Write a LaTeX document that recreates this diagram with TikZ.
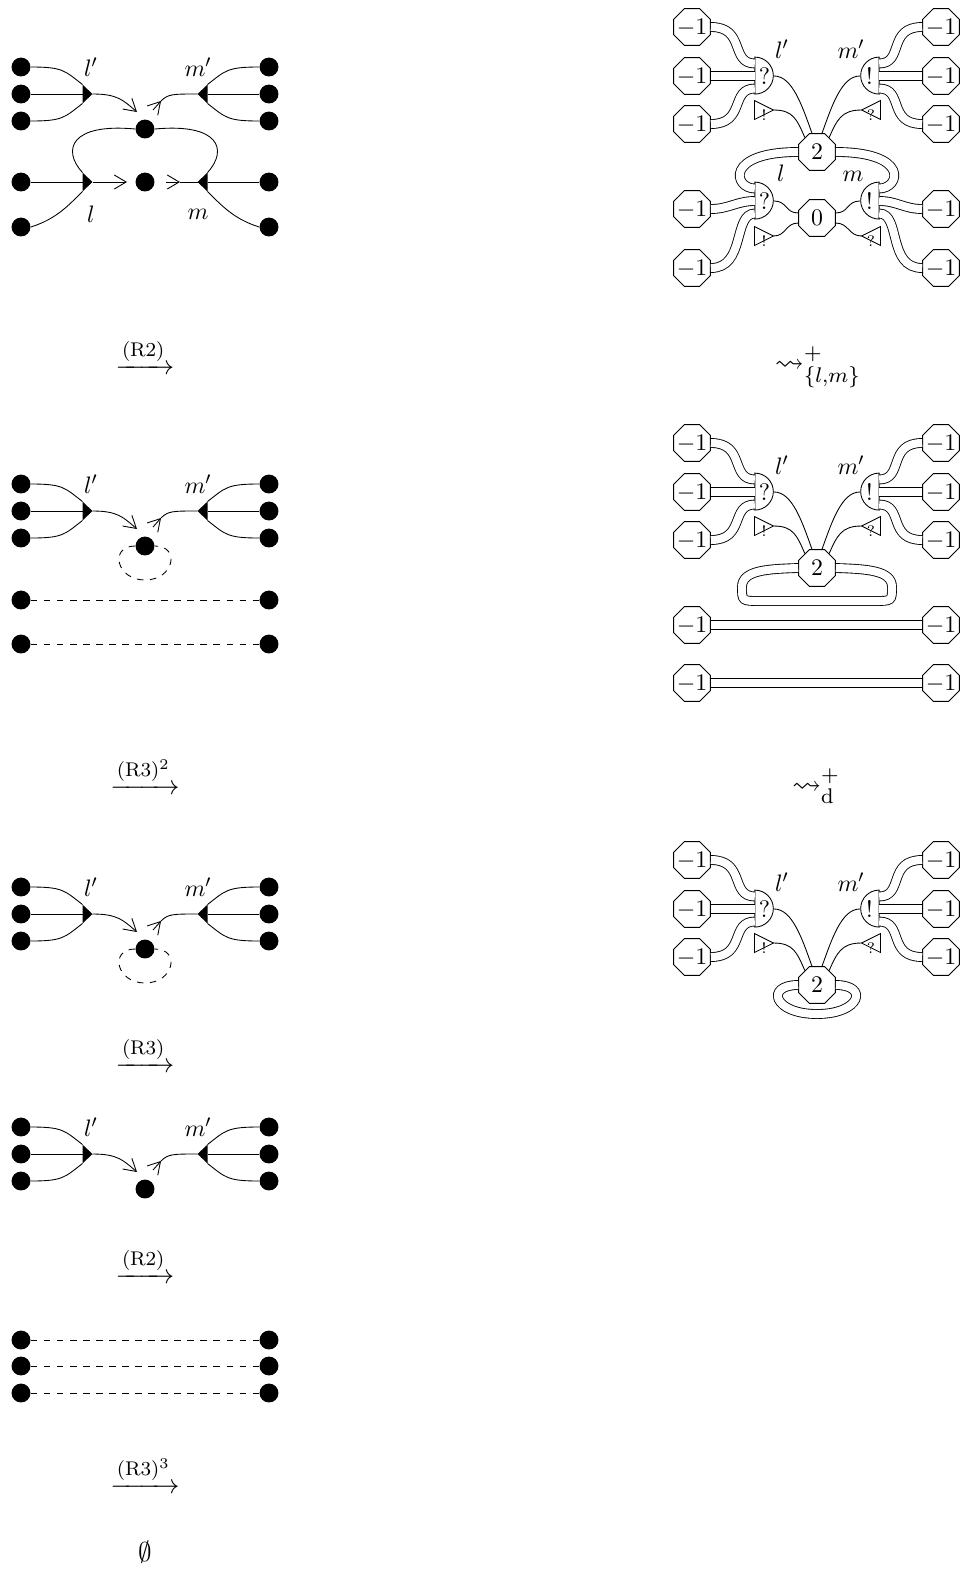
\documentclass[tikz,border=0pt]{standalone}
\usepackage{amsmath,amssymb}
\usetikzlibrary{arrows.meta,shapes.geometric,calc}

\tikzset{
    dotnode/.style={circle,fill,inner sep=0pt,minimum size=8.7pt},
    octnode/.style={regular polygon,regular polygon sides=8,draw,inner sep=0pt,minimum size=18.3pt},
    stepnode/.style={scale=1.14},
    squignode/.style={scale=1.22},
    lcell/.style={inner sep=0pt,minimum width=8.5pt,minimum height=17pt,
        append after command={\pgfextra{\draw (\tikzlastnode.north west) arc[start angle=-90,end angle=90,radius=18.5] -- cycle;}}},
    rcell/.style={inner sep=0pt,minimum width=8.5pt,minimum height=17pt,
        append after command={\pgfextra{\draw (\tikzlastnode.north east) arc[start angle=-90,end angle=-270,radius=18.5] -- cycle;}}},
    blackl/.style={inner sep=0pt,minimum width=4.2pt,minimum height=8.3pt,
        append after command={\pgfextra{\fill (\tikzlastnode.north west) -- (\tikzlastnode.east) -- (\tikzlastnode.south west) -- cycle;}}},
    blackr/.style={inner sep=0pt,minimum width=4.2pt,minimum height=8.3pt,
        append after command={\pgfextra{\fill (\tikzlastnode.north east) -- (\tikzlastnode.west) -- (\tikzlastnode.south east) -- cycle;}}},
    whitel/.style={inner sep=0pt,minimum width=8.3pt,minimum height=8.3pt,
        append after command={\pgfextra{\draw (\tikzlastnode.north west) -- (\tikzlastnode.east) -- (\tikzlastnode.south west) -- cycle;}}},
    whiter/.style={inner sep=0pt,minimum width=8.3pt,minimum height=8.3pt,
        append after command={\pgfextra{\draw (\tikzlastnode.north east) -- (\tikzlastnode.west) -- (\tikzlastnode.south east) -- cycle;}}},
    wire/.style={double,double distance=3.7pt},
    toarrow/.style={-{Straight Barb[length=5.5pt,width=6.5pt]}},
}

\newcommand{\lowered}[1]{\smash{\raisebox{-5pt}{\scriptsize #1}}}
\newcommand{\minusone}{\makebox[0pt]{\raisebox{-3.4pt}[0pt][0pt]{$-1$}}}

\newcommand{\fanpair}[2]{
    \foreach \row/\yy in {a/0,b/27,c/54} {
        \node[dotnode] (#1l\row) at (21,#2+\yy) {};
        \node[dotnode] (#1r\row) at (269,#2+\yy) {};
    }
    \node[blackl] (#1lt) at (87.5,#2+27) {};
    \node[blackr] (#1rt) at (202.5,#2+27) {};
    \node[dotnode] (#1mid) at (145,#2+62) {};
    \node (#1lab) at (91,#2) {$l'$};
    \node (#1mab) at (198,#2) {$m'$};
    \coordinate (#1lend) at (137,#2+45);
    \coordinate (#1rend) at (153,#2+43);
    \coordinate (#1rtip) at (161,#2+34);
    \draw (#1la.east) .. controls +(32,0) and +(-18,-14) .. (#1lt.north west);
    \draw (#1lb.east) -- (#1lt.west);
    \draw (#1lc.east) .. controls +(32,0) and +(-18,14) .. (#1lt.south west);
    \draw (#1ra.west) .. controls +(-32,0) and +(18,-14) .. (#1rt.north east);
    \draw (#1rb.west) -- (#1rt.east);
    \draw (#1rc.west) .. controls +(-32,0) and +(18,14) .. (#1rt.south east);
    \draw[toarrow] (#1lt.east) .. controls +(25,0) and +(-14,-12) .. (#1lend);
    \draw (#1rt.west) .. controls +(-25,0) and +(7,-7) .. (#1rtip);
    \draw[toarrow] (#1rend) -- (#1rtip);
}

\newcommand{\dashloop}[1]{
    \coordinate (#1low) at ($(#1mid)+(0,34)$);
    \draw[dashed] (#1mid.west) .. controls +(-26,0) and +(-29,0) .. (#1low)
        .. controls +(29,0) and +(26,0) .. (#1mid.east);
}

\newcommand{\netupper}[2]{
    \foreach \row/\yy in {a/27,b/76,c/124} {
        \node[octnode] (#1l\row) at (692,#2+\yy) {\minusone};
        \node[octnode] (#1r\row) at (941,#2+\yy) {\minusone};
    }
    \node[lcell] (#1lq) at (764.5,#2+76) {?};
    \node[rcell] (#1rq) at (869.5,#2+76) {!};
    \node[whitel] (#1lw) at (764,#2+110) {\lowered{!}};
    \node[whiter] (#1rw) at (871,#2+110) {\lowered{?}};
    \node[octnode] (#1two) at (817,#2+152) {$2$};
    \node (#1lab) at (782,#2+49) {$l'$};
    \node (#1mab) at (851,#2+49) {$m'$};
    \draw[wire] (#1la.east) .. controls +(35,0) and +(-25,0) .. ([yshift=5.75pt]#1lq.west);
    \draw[wire] (#1lb.east) -- (#1lq.west);
    \draw[wire] (#1lc.east) .. controls +(35,0) and +(-25,0) .. ([yshift=-5.75pt]#1lq.west);
    \draw[wire] (#1ra.west) .. controls +(-35,0) and +(25,0) .. ([yshift=5.75pt]#1rq.east);
    \draw[wire] (#1rb.west) -- (#1rq.east);
    \draw[wire] (#1rc.west) .. controls +(-35,0) and +(25,0) .. ([yshift=-5.75pt]#1rq.east);
    \draw (#1lq.east) .. controls +(18,0) and +(-10,-28) .. (#1two.105);
    \draw (#1rq.west) .. controls +(-18,0) and +(10,-28) .. (#1two.75);
    \draw (#1lw.east) .. controls +(20,0) and +(-8,-18) .. (#1two.130);
    \draw (#1rw.west) .. controls +(-20,0) and +(8,-18) .. (#1two.50);
}

\begin{document}
\begin{tikzpicture}[x=0.46pt,y=-0.46pt,font=\fontsize{10.95}{13}\selectfont]
    \useasboundingbox (0,0) rectangle (973,1585);

    \fanpair{a}{67}
    \node[dotnode] (aone) at (21,182) {};
    \node[dotnode] (atwo) at (21,227) {};
    \node[dotnode] (bone) at (269,182) {};
    \node[dotnode] (btwo) at (269,227) {};
    \node[dotnode] (acen) at (145,182) {};
    \node[blackl] (ltlow) at (87.5,182) {};
    \node[blackr] (rtlow) at (202.5,182) {};
    \node (alow) at (91,214) {$l$};
    \node (mlow) at (198,214) {$m$};
    \coordinate (aget) at (127,182);
    \coordinate (bget) at (166,182);
    \coordinate (btip) at (180,182);
    \draw (aone.east) -- (ltlow.west);
    \draw (atwo.east) .. controls +(25,-8) and +(-15,15) .. (ltlow.south west);
    \draw (bone.west) -- (rtlow.east);
    \draw (btwo.west) .. controls +(-25,-8) and +(15,15) .. (rtlow.south east);
    \draw (ltlow.north west) .. controls +(-21,-23) and +(-64,-6) .. (amid.west);
    \draw (rtlow.north east) .. controls +(21,-23) and +(64,-6) .. (amid.east);
    \draw[toarrow] (ltlow.east) -- (aget);
    \draw (rtlow.west) -- (btip);
    \draw[toarrow] (bget) -- (btip);
    \node[stepnode] (stepa) at (145,356.5) {$\xrightarrow{(\mathrm{R2})}$};

    \fanpair{b}{484}
    \dashloop{b}
    \node[dotnode] (bdl) at (21,600) {};
    \node[dotnode] (bdr) at (269,600) {};
    \node[dotnode] (bel) at (21,644) {};
    \node[dotnode] (ber) at (269,644) {};
    \draw[dashed] (bdl) -- (bdr);
    \draw[dashed] (bel) -- (ber);
    \node[stepnode] (stepb) at (145,776) {$\xrightarrow{(\mathrm{R3})^2}$};

    \fanpair{c}{887}
    \dashloop{c}
    \node[stepnode] (stepc) at (145,1055) {$\xrightarrow{(\mathrm{R3})}$};

    \fanpair{d}{1127}
    \node[stepnode] (stepd) at (145,1266) {$\xrightarrow{(\mathrm{R2})}$};

    \node[dotnode] (eal) at (21,1340) {};
    \node[dotnode] (ear) at (269,1340) {};
    \node[dotnode] (ebl) at (21,1366) {};
    \node[dotnode] (ebr) at (269,1366) {};
    \node[dotnode] (ecl) at (21,1393) {};
    \node[dotnode] (ecr) at (269,1393) {};
    \draw[dashed] (eal) -- (ear);
    \draw[dashed] (ebl) -- (ebr);
    \draw[dashed] (ecl) -- (ecr);
    \node[stepnode] (stepe) at (145,1475) {$\xrightarrow{(\mathrm{R3})^3}$};
    \node[stepnode] (empty) at (145,1552) {$\emptyset$};

    \netupper{p}{0}
    \node[octnode] (pua) at (692,209) {\minusone};
    \node[octnode] (pub) at (692,268) {\minusone};
    \node[octnode] (qua) at (941,209) {\minusone};
    \node[octnode] (qub) at (941,268) {\minusone};
    \node[lcell] (pql) at (764.5,201) {?};
    \node[rcell] (pqr) at (869.5,201) {!};
    \node[whitel] (pwl) at (764,236) {\lowered{!}};
    \node[whiter] (pwr) at (871,236) {\lowered{?}};
    \node[octnode] (pzero) at (817,218) {$0$};
    \node (plow) at (781,173) {$l$};
    \node (qlow) at (853,176) {$m$};
    \draw[wire] (pua.east) .. controls +(18,0) and +(-18,0) .. (pql.west);
    \draw[wire] (pub.east) .. controls +(35,0) and +(-22,0) .. ([yshift=-5.75pt]pql.west);
    \draw[wire] (qua.west) .. controls +(-18,0) and +(18,0) .. (pqr.east);
    \draw[wire] (qub.west) .. controls +(-35,0) and +(22,0) .. ([yshift=-5.75pt]pqr.east);
    \draw[wire] (ptwo.west) .. controls +(-74,0) and +(-21,0) .. ([yshift=5.75pt]pql.west);
    \draw[wire] (ptwo.east) .. controls +(74,0) and +(21,0) .. ([yshift=5.75pt]pqr.east);
    \draw (pql.east) .. controls +(13,0) and +(-13,0) .. (pzero.165);
    \draw (pwl.east) .. controls +(13,0) and +(-13,0) .. (pzero.195);
    \draw (pqr.west) .. controls +(-13,0) and +(13,0) .. (pzero.15);
    \draw (pwr.west) .. controls +(-13,0) and +(13,0) .. (pzero.-15);
    \node[squignode] (stepp) at (818,367) {$\rightsquigarrow^+_{\{l,m\}}$};

    \netupper{r}{416}
    \coordinate (rsl) at (742,587);
    \coordinate (rsr) at (892,587);
    \coordinate (rbl) at (760,601);
    \coordinate (rbr) at (874,601);
    \draw[wire] (rtwo.west) .. controls +(-30,1) and +(0,-17) .. (rsl)
        .. controls +(0,14) and +(-18,0) .. (rbl) -- (rbr)
        .. controls +(18,0) and +(0,14) .. (rsr)
        .. controls +(0,-17) and +(30,1) .. (rtwo.east);
    \node[octnode] (sal) at (692,625) {\minusone};
    \node[octnode] (sar) at (941,625) {\minusone};
    \node[octnode] (sbl) at (692,683) {\minusone};
    \node[octnode] (sbr) at (941,683) {\minusone};
    \draw[wire] (sal) -- (sar);
    \draw[wire] (sbl) -- (sbr);
    \node[squignode] (stepr) at (816,786) {$\rightsquigarrow^+_{\mathrm{d}}$};

    \netupper{t}{833}
    \coordinate (tlow) at (817,1014);
    \draw[wire] (ttwo.west) .. controls +(-33,0) and +(-44,0) .. (tlow)
        .. controls +(44,0) and +(33,0) .. (ttwo.east);
\end{tikzpicture}
\end{document}
